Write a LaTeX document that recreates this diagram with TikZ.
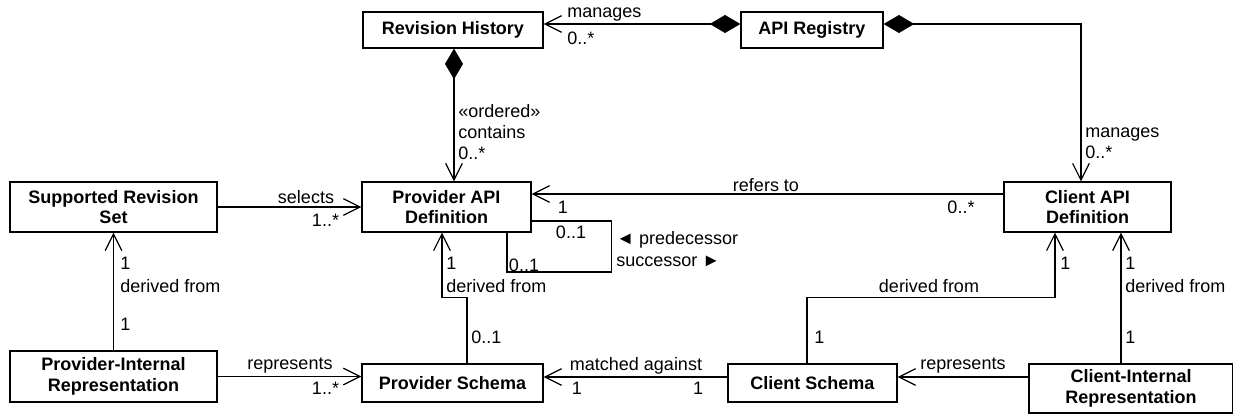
\documentclass[tikz,border=0pt]{standalone}
\usepackage{fontspec}
\setmainfont{Liberation Sans}
\usetikzlibrary{arrows.meta,calc}

\begin{document}
\begin{tikzpicture}[x=0.75pt,y=-0.75pt,
  every node/.style={font=\fontsize{13.5}{15.5}\selectfont},
  cls/.style 2 args={draw, line width=0.9pt, align=center, inner sep=0pt,
    font=\fontsize{13.5}{15.5}\selectfont\bfseries,
    minimum width=#1*0.75pt, minimum height=#2*0.75pt},
  lbl/.style={inner sep=0pt, anchor=west, align=left},
  mid/.style={inner sep=0pt, anchor=center},
  assoc/.style={line width=0.9pt, -{Straight Barb[length=12.5pt,width=12.5pt]}},
  comp/.style={line width=0.9pt, {Diamond[length=23pt,width=13.5pt]}-{Straight Barb[length=12.5pt,width=12.5pt]}},
  plain/.style={line width=0.9pt}]

\useasboundingbox (0,0) rectangle (1233,416);

%% the classes
\node[cls={180}{36}] (revHist) at (453,30) {Revision History};
\node[cls={142}{36}] (apiReg)  at (812,30)   {API Registry};
\node[cls={207}{50}] (suppSet) at (113.5,207) {Supported Revision\\Set};
\node[cls={169}{50}] (provDef) at (446.5,207) {Provider API\\Definition};
\node[cls={167}{50}] (cliDef)  at (1087.5,207) {Client API\\Definition};
\node[cls={207}{51}] (provRep) at (113.5,376.5) {Provider-Internal\\Representation};
\node[cls={181}{38}] (provSch) at (452.5,383) {Provider Schema};
\node[cls={169}{38}] (cliSch)  at (812.5,383) {Client Schema};
\node[cls={204}{49}] (cliRep)  at (1131,388.5) {Client-Internal\\Representation};

%% compositions of the registry and the history
\draw[comp] ([yshift=4.5pt]apiReg.west) -- ([yshift=4.5pt]revHist.east);
\draw[comp] ([yshift=4.5pt]apiReg.east) -| ([xshift=-4.9pt]cliDef.north);
\coordinate (histDown) at ([xshift=0.75pt]revHist.south);
\draw[comp] (histDown) -- (histDown |- provDef.north);

\node[lbl] (mgHistA) at (567,15) {manages};
\node[lbl] (mgHistB) at (567,38) {0..*};
\node[lbl] (ctHist)  at (458,132) {«ordered»\\contains\\0..*};
\node[lbl] (mgCli)   at (1085,143.5) {manages\\0..*};

%% associations between the definitions
\draw[assoc] (suppSet.east) -- (provDef.west);
\node[mid] (selA) at (306,197) {selects};
\node[mid] (selB) at (325.5,220) {1..*};

\draw[assoc] ([yshift=9.75pt]cliDef.west) -- ([yshift=9.75pt]provDef.east);
\node[mid] (refA) at (766,185) {refers to};
\node[mid] (refB) at (563,207) {1};
\node[mid] (refC) at (961,207) {0..*};

%% predecessor / successor loop
\draw[plain] ([yshift=-10.5pt]provDef.east) -- ++(80,0) -- ++(0,51) -| ([xshift=45.4pt]provDef.south);
\node[mid] (loopA) at (571,232) {0..1};
\node[mid] (loopB) at (524,265) {0..1};
\node[lbl] (predLbl) at (616,240) {◄ predecessor};
\node[lbl] (succLbl) at (616,261) {successor ►};

%% derived from
\draw[assoc] (provRep.north) -- (suppSet.south);
\node[lbl] (dfA1) at (120,263) {1};
\node[lbl] (dfA2) at (120,286) {derived from};
\node[lbl] (dfA3) at (120,324) {1};

\draw[assoc] ([xshift=10.9pt]provSch.north) -- ++(0,-66) -| ([xshift=-3.4pt]provDef.south);
\node[lbl] (dfB1) at (446,263) {1};
\node[lbl] (dfB2) at (446,286) {derived from};
\node[lbl] (dfB3) at (471,337) {0..1};

\draw[assoc] ([xshift=-4.1pt]cliSch.north) -- ++(0,-66) -| ([xshift=-24.4pt]cliDef.south);
\node[lbl] (dfC1) at (1060,263) {1};
\node[mid] (dfC2) at (929,286) {derived from};
\node[lbl] (dfC3) at (814,337) {1};

\coordinate (cliUp) at ([xshift=-7.5pt]cliRep.north);
\draw[assoc] (cliUp) -- (cliUp |- cliDef.south);
\node[lbl] (dfD1) at (1125,263) {1};
\node[lbl] (dfD2) at (1125,286) {derived from};
\node[lbl] (dfD3) at (1125,337) {1};

%% schemas
\draw[assoc] (provRep.east) -- (provRep.east -| provSch.west);
\node[mid] (repA) at (290,366) {represents};
\node[mid] (repB) at (325.5,388) {1..*};

\draw[assoc] ([yshift=4.5pt]cliSch.west) -- ([yshift=4.5pt]provSch.east);
\node[mid] (matA) at (636,366) {matched against};
\node[mid] (matB) at (577,388) {1};
\node[mid] (matC) at (698,388) {1};

\coordinate (cliIn) at ([yshift=4.5pt]cliSch.east);
\draw[assoc] (cliIn -| cliRep.west) -- (cliIn);
\node[mid] (repC) at (963,366) {represents};

\end{tikzpicture}
\end{document}
